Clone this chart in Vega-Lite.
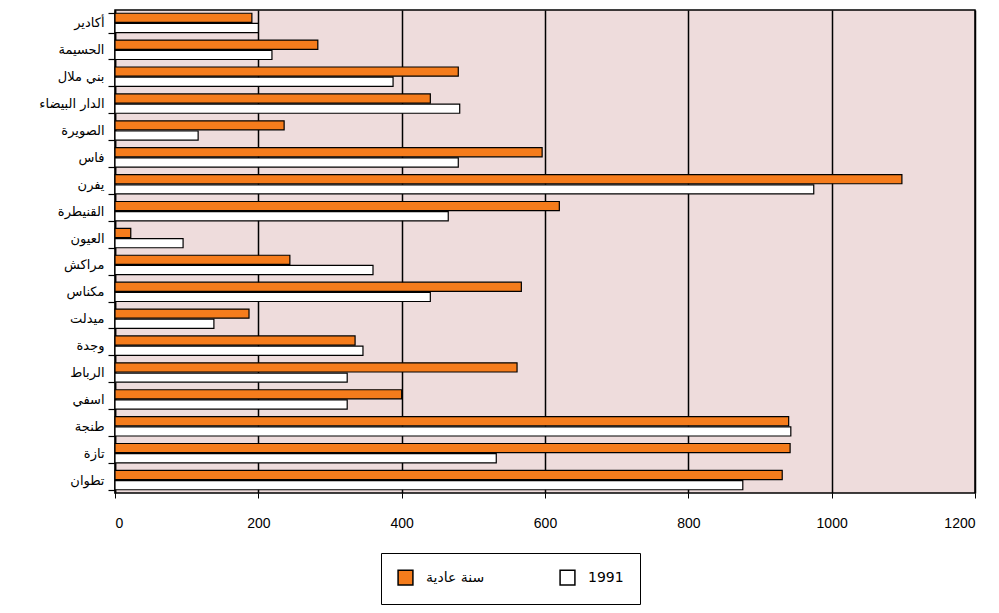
{
  "$schema": "https://vega.github.io/schema/vega-lite/v6.json",
  "autosize": "none",
  "width": 860,
  "height": 483,
  "padding": {"left": 115, "top": 10, "right": 24, "bottom": 120},
  "background": "white",
  "config": {
    "view": {"fill": "#eedcdc", "stroke": "black", "strokeWidth": 1.5},
    "font": "DejaVu Sans"
  },
  "data": {
    "values": [
      {"city": "أكادير", "series": "سنة عادية", "value": 191},
      {"city": "أكادير", "series": "1991", "value": 200},
      {"city": "الحسيمة", "series": "سنة عادية", "value": 283},
      {"city": "الحسيمة", "series": "1991", "value": 219},
      {"city": "بني ملال", "series": "سنة عادية", "value": 479},
      {"city": "بني ملال", "series": "1991", "value": 388},
      {"city": "الدار البيضاء", "series": "سنة عادية", "value": 440},
      {"city": "الدار البيضاء", "series": "1991", "value": 481},
      {"city": "الصويرة", "series": "سنة عادية", "value": 236},
      {"city": "الصويرة", "series": "1991", "value": 116},
      {"city": "فاس", "series": "سنة عادية", "value": 596},
      {"city": "فاس", "series": "1991", "value": 479},
      {"city": "يفرن", "series": "سنة عادية", "value": 1098},
      {"city": "يفرن", "series": "1991", "value": 975},
      {"city": "القنيطرة", "series": "سنة عادية", "value": 620},
      {"city": "القنيطرة", "series": "1991", "value": 465},
      {"city": "العيون", "series": "سنة عادية", "value": 22},
      {"city": "العيون", "series": "1991", "value": 95},
      {"city": "مراكش", "series": "سنة عادية", "value": 244},
      {"city": "مراكش", "series": "1991", "value": 360},
      {"city": "مكناس", "series": "سنة عادية", "value": 567},
      {"city": "مكناس", "series": "1991", "value": 440},
      {"city": "ميدلت", "series": "سنة عادية", "value": 187},
      {"city": "ميدلت", "series": "1991", "value": 138},
      {"city": "وجدة", "series": "سنة عادية", "value": 335},
      {"city": "وجدة", "series": "1991", "value": 346},
      {"city": "الرباط", "series": "سنة عادية", "value": 561},
      {"city": "الرباط", "series": "1991", "value": 324},
      {"city": "اسفي", "series": "سنة عادية", "value": 400},
      {"city": "اسفي", "series": "1991", "value": 324},
      {"city": "طنجة", "series": "سنة عادية", "value": 940},
      {"city": "طنجة", "series": "1991", "value": 943},
      {"city": "تازة", "series": "سنة عادية", "value": 942},
      {"city": "تازة", "series": "1991", "value": 532},
      {"city": "تطوان", "series": "سنة عادية", "value": 931},
      {"city": "تطوان", "series": "1991", "value": 876}
    ]
  },
  "mark": {"type": "bar", "stroke": "black", "strokeWidth": 1.2, "cornerRadius": 0},
  "encoding": {
    "y": {
      "field": "city",
      "type": "nominal",
      "sort": null,
      "scale": {"paddingInner": 0.28, "paddingOuter": 0.12},
      "axis": {
        "title": null,
        "grid": false,
        "domain": true,
        "domainColor": "black",
        "domainWidth": 1.5,
        "tickBand": "extent",
        "ticks": true,
        "tickColor": "black",
        "tickSize": 7,
        "tickWidth": 1.2,
        "labelFont": "DejaVu Sans",
        "labelFontSize": 13,
        "labelColor": "black",
        "labelPadding": 4
      }
    },
    "yOffset": {
      "field": "series",
      "type": "nominal",
      "scale": {"domain": ["سنة عادية", "1991"], "paddingInner": 0.1}
    },
    "x": {
      "field": "value",
      "type": "quantitative",
      "scale": {"domain": [0, 1200], "nice": false},
      "axis": {
        "title": null,
        "values": [0, 200, 400, 600, 800, 1000, 1200],
        "format": "d",
        "grid": true,
        "gridColor": "black",
        "gridWidth": 1.5,
        "gridOpacity": 1,
        "domain": false,
        "ticks": true,
        "tickColor": "black",
        "tickSize": 5,
        "labelFont": "Liberation Sans",
        "labelFontSize": 14,
        "labelColor": "black",
        "labelPadding": 18
      }
    },
    "color": {
      "field": "series",
      "type": "nominal",
      "scale": {"domain": ["سنة عادية", "1991"], "range": ["#f57c1c", "#ffffff"]},
      "legend": {
        "title": null,
        "orient": "none",
        "legendX": 266,
        "legendY": 543,
        "direction": "horizontal",
        "columns": 2,
        "gridAlign": "all",
        "columnPadding": 72,
        "padding": 16,
        "strokeColor": "black",
        "fillColor": "white",
        "symbolType": "square",
        "symbolSize": 220,
        "symbolStrokeColor": "black",
        "symbolStrokeWidth": 1.5,
        "symbolOpacity": 1,
        "symbolOffset": 0,
        "labelOffset": 12,
        "labelFont": "DejaVu Sans",
        "labelFontSize": 14,
        "labelColor": "black"
      }
    }
  }
}
